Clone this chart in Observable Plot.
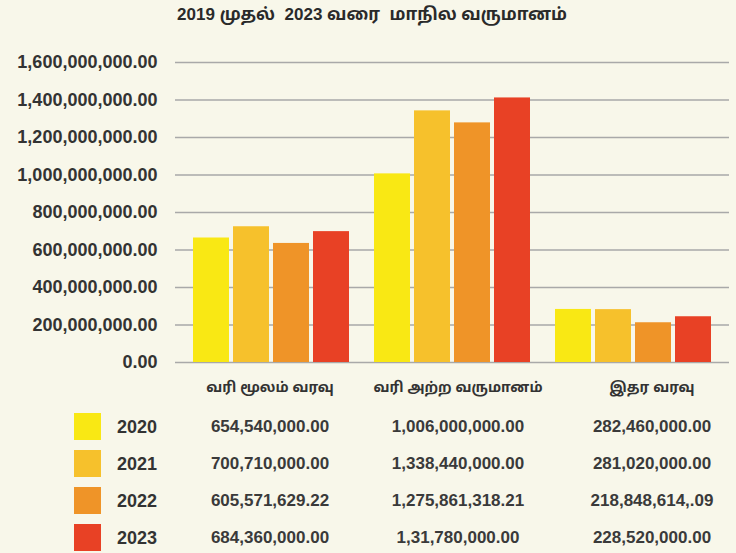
<!DOCTYPE html>
<html>
<head>
<meta charset="utf-8">
<script src="https://cdn.jsdelivr.net/npm/d3@7"></script>
<script src="https://cdn.jsdelivr.net/npm/@observablehq/plot@0.6"></script>
<style>
  html, body { margin: 0; padding: 0; background: #f8f7ea; }
  #wrap { position: relative; width: 736px; height: 553px; overflow: hidden; background: #f8f7ea;
          font-family: "Liberation Sans", "Noto Sans Tamil", "Noto Sans", Arial, sans-serif; color: #333; }
  #title { position: absolute; top: 5px; left: 0; width: 736px; text-align: center; font-weight: bold; font-size: 17px; color: #2a2a2a; padding-left: 4px; white-space: pre; }
  #chart { position: absolute; top: 40px; left: 0; }
  .t { position: absolute; transform: translate(-50%, -50%); white-space: nowrap; }
  .hdr { font-size: 14px; font-weight: bold; color: #333; }
  .val { font-size: 17px; font-weight: bold; color: #3a3a3a; }
  .yr { font-size: 18px; font-weight: bold; color: #333; }
  .sw { position: absolute; width: 27px; height: 27px; }
</style>
</head>
<body>
<div id="wrap">
  <div id="title"></div>
  <div id="chart"></div>
</div>
<script>
// ---- data ----
const titleText = "2019 முதல்  2023 வரை  மாநில வருமானம்";
const categories = ["வரி மூலம் வரவு", "வரி அற்ற வருமானம்", "இதர வரவு"];
const years = ["2020", "2021", "2022", "2023"];
const colors = ["#f9e814", "#f6c12c", "#ef9428", "#e84125"];
// bar heights as drawn in the chart
const bars2020 = [664e6, 1006e6, 283e6];
const bars2021 = [724e6, 1342e6, 282e6];
const bars2022 = [635e6, 1278e6, 212e6];
const bars2023 = [698e6, 1411e6, 244e6];
// table labels as printed
const table2020 = ["654,540,000.00", "1,006,000,000.00", "282,460,000.00"];
const table2021 = ["700,710,000.00", "1,338,440,000.00", "281,020,000.00"];
const table2022 = ["605,571,629.22", "1,275,861,318.21", "218,848,614,.09"];
const table2023 = ["684,360,000.00", "1,31,780,000.00", "228,520,000.00"];
const yTicks = [0, 200e6, 400e6, 600e6, 800e6, 1000e6, 1200e6, 1400e6, 1600e6];

const barSeries = [bars2020, bars2021, bars2022, bars2023];
const tableSeries = [table2020, table2021, table2022, table2023];

document.getElementById("title").textContent = titleText;

const fmt = d3.format(",.2f");

const marks = [
  Plot.ruleY(yTicks, {stroke: "#a9a9a9", strokeWidth: 1.3})
];
years.forEach((yr, i) => {
  const rows = categories.map((c, j) => ({cat: c, value: barSeries[i][j]}));
  marks.push(Plot.barY(rows, {
    x: "cat", y: "value", fill: colors[i],
    insetLeft: i * 40, insetRight: (3 - i) * 40
  }));
});

const plot = Plot.plot({
  width: 736,
  height: 340,
  marginTop: 22,
  marginBottom: 18,
  marginLeft: 175,
  marginRight: 7,
  style: {background: "transparent", fontFamily: "'Liberation Sans', Arial, sans-serif", fontSize: "18px", color: "#333", fontWeight: "bold"},
  x: {domain: categories, paddingInner: 0.137, paddingOuter: 0.093, axis: null},
  y: {domain: [0, 1.6e9], ticks: yTicks, tickFormat: fmt, tickSize: 0, tickPadding: 18, label: null},
  marks
});
document.getElementById("chart").appendChild(plot);

// ---- table below ----
const wrap = document.getElementById("wrap");
const colX = [270, 458, 652];
const hdrY = 388;
const rowY = [427, 464, 501, 538];
function addText(txt, x, y, cls) {
  const d = document.createElement("div");
  d.className = "t " + cls;
  d.textContent = txt;
  d.style.left = x + "px";
  d.style.top = y + "px";
  wrap.appendChild(d);
}
categories.forEach((c, j) => addText(c, colX[j], hdrY, "hdr"));
years.forEach((yr, i) => {
  const sw = document.createElement("div");
  sw.className = "sw";
  sw.style.background = colors[i];
  sw.style.left = "74px";
  sw.style.top = (rowY[i] - 14) + "px";
  wrap.appendChild(sw);
  addText(yr, 137, rowY[i], "yr");
  tableSeries[i].forEach((t, j) => addText(t, colX[j], rowY[i], "val"));
});
</script>
</body>
</html>
